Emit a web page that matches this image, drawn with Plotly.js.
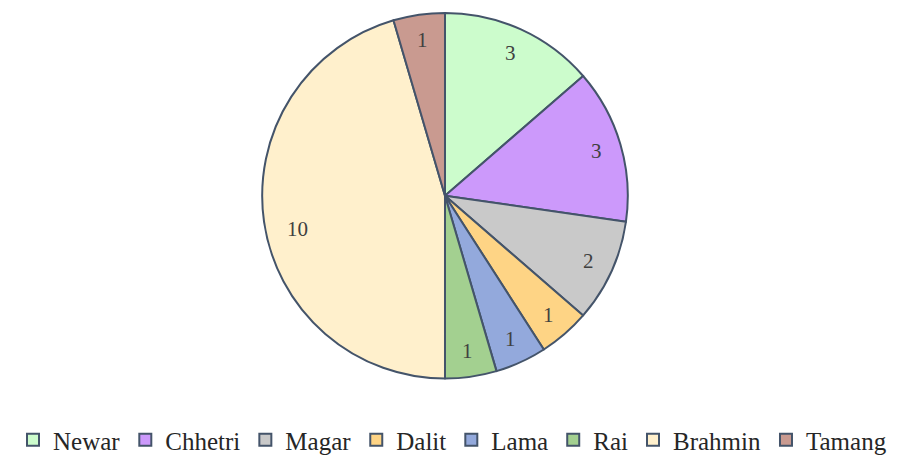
<!DOCTYPE html>
<html><head><meta charset="utf-8">
<script src="https://cdn.plot.ly/plotly-3.0.1.min.js"></script>
<style>html,body{margin:0;padding:0;background:#fff}</style>
</head><body>
<div id="chart" style="width:905px;height:463px"></div>
<script>
var categories = ["Newar","Chhetri","Magar","Dalit","Lama","Rai","Brahmin","Tamang"];
var values = [3,3,2,1,1,1,10,1];
var colors = ["#ccfccc","#cc99fb","#c9c9c9","#fed485","#93a9dc","#a3d090","#fff0cc","#c99a90"];

var dom = {x:[0.2884,0.6950], y:[0.1771,0.9719]};
var W = 905, H = 463;
var cx = (dom.x[0]+dom.x[1])/2, cy = (dom.y[0]+dom.y[1])/2;
var R = 184;
var total = values.reduce(function(a,b){return a+b;},0);
var ann = [], acc = 0;
for (var i=0;i<values.length;i++){
  var mid = (acc + values[i]/2)/total*2*Math.PI; acc += values[i];
  var r = 0.86*R;
  if (values[i] >= 10) { r = 0.82*R; mid -= 0.08; }
  ann.push({xref:'paper', yref:'paper', x: cx + r*Math.sin(mid)/W, y: cy + r*Math.cos(mid)/H,
    text: String(values[i]), showarrow:false, xanchor:'center', yanchor:'middle',
    font:{family:'Liberation Serif, Times New Roman, serif', size:21, color:'#404040'}});
}

var trace = {
  type:'pie', labels:categories, values:values, sort:false, direction:'clockwise', rotation:0,
  marker:{colors:colors, line:{color:'#44546a', width:2}},
  textinfo:'none', hoverinfo:'label+value', domain:dom
};
var layout = {
  width:W, height:H, margin:{l:0,r:0,t:0,b:0}, paper_bgcolor:'#fff',
  showlegend:true,
  legend:{orientation:'h', x:0.5, xanchor:'center', y:0.043, yanchor:'middle',
    font:{family:'Liberation Serif, Times New Roman, serif', size:25, color:'#262626'},
    itemwidth:30, traceorder:'normal'},
  annotations: ann
};
Plotly.newPlot('chart',[trace],layout,{displayModeBar:false, staticPlot:true});
</script>
</body></html>
